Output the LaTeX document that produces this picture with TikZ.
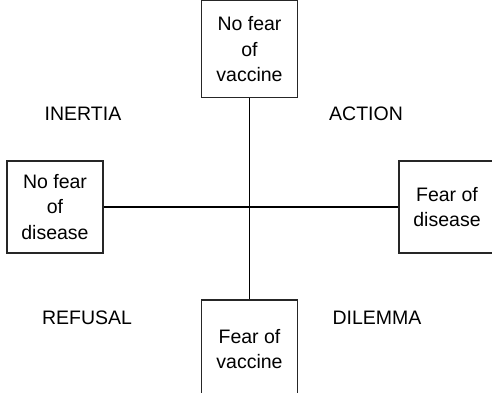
\documentclass[tikz,border=0pt]{standalone}
\usepackage{fontspec}
\setmainfont{Liberation Sans}
\begin{document}
\begin{tikzpicture}[x=1pt,y=-1pt,
  box/.style={draw=black!85,line width=1.3pt,minimum width=96pt,align=center,inner sep=0pt,font=\fontsize{19.5}{25.5}\selectfont},
  quad/.style={font=\fontsize{19.5}{22}\selectfont,inner sep=0pt},
  link/.style={draw=black,line width=1.2pt}]
\useasboundingbox (0,0) rectangle (492,392);
\node[box,minimum height=97pt] (top) at (249.5,49.3) {No fear\\of\\vaccine};
\node[box,minimum height=92pt] (left) at (55,207) {No fear\\of\\disease};
\node[box,minimum height=92pt] (right) at (447,207) {Fear of\\disease};
\node[box,minimum height=98pt] (bottom) at (249.5,349) {Fear of\\vaccine};
\draw[link] (top.south) -- (bottom.north);
\draw[link] (left.east) -- (right.west);
\node[quad] (inertia) at (83,114) {INERTIA};
\node[quad] (action) at (366,114) {ACTION};
\node[quad] (refusal) at (87,318) {REFUSAL};
\node[quad] (dilemma) at (377,318) {DILEMMA};
\end{tikzpicture}
\end{document}
